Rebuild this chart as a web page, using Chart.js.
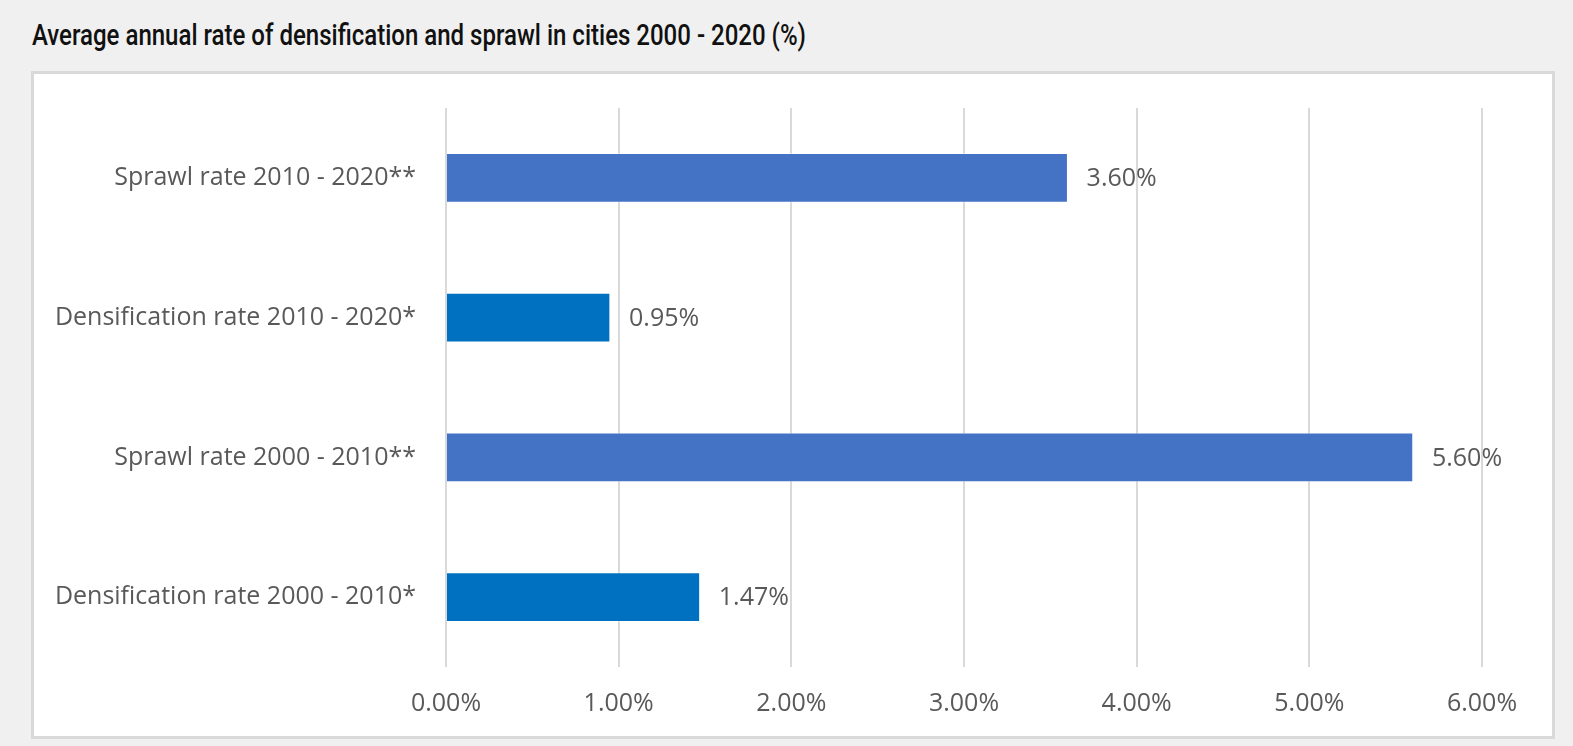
<!DOCTYPE html>
<html>
<head>
<meta charset="utf-8">
<script src="https://cdn.jsdelivr.net/npm/chart.js@4/dist/chart.umd.min.js"></script>
<style>
  html, body { margin: 0; padding: 0; background: #f0f0f0; }
  body { width: 1573px; height: 746px; position: relative; overflow: hidden; }
  #title {
    position: absolute; left: 32px; top: 17px;
    font-family: Roboto, "DejaVu Sans Condensed", sans-serif;
    font-size: 29px; font-weight: 500; line-height: 36px; color: #111;
    white-space: nowrap; transform-origin: 0 0;
  }
  #panel {
    position: absolute; left: 31px; top: 71px;
    width: 1518px; height: 662px;
    border: 3px solid #d9d9d9; background: #ffffff;
  }
  #chart { display: block; }
</style>
</head>
<body>
<div id="title">Average annual rate of densification and sprawl in cities 2000 - 2020 (%)</div>
<div id="panel"><canvas id="chart" width="1518" height="662"></canvas></div>
<script>
const categories = [
  'Sprawl rate 2010 - 2020**',
  'Densification rate 2010 - 2020*',
  'Sprawl rate 2000 - 2010**',
  'Densification rate 2000 - 2010*'
];
const values = [3.60, 0.95, 5.60, 1.47];
const barColors = ['#4472C4', '#0070C0', '#4472C4', '#0070C0'];
const xTicks = [0, 1, 2, 3, 4, 5, 6];

// fit title width
(function () {
  const t = document.getElementById('title');
  const w = t.getBoundingClientRect().width;
  const target = 774;
  t.style.transform = 'scaleX(' + (target / w) + ')';
})();

const FONT = '"Open Sans", "Noto Sans", sans-serif';
const TXT = '#595959';

const dataLabels = {
  id: 'dataLabels',
  afterDatasetsDraw(chart) {
    const ctx = chart.ctx;
    const meta = chart.getDatasetMeta(0);
    ctx.save();
    ctx.font = '25px ' + FONT;
    ctx.fillStyle = TXT;
    ctx.textAlign = 'left';
    ctx.textBaseline = 'middle';
    meta.data.forEach((bar, i) => {
      ctx.fillText(values[i].toFixed(2) + '%', bar.x + 19, bar.y + 1);
    });
    ctx.restore();
  }
};

new Chart(document.getElementById('chart'), {
  type: 'bar',
  data: {
    labels: categories,
    datasets: [{
      data: values,
      backgroundColor: barColors,
      borderColor: 'rgba(255,255,255,0.35)',
      borderWidth: 1,
      barThickness: 49
    }]
  },
  options: {
    indexAxis: 'y',
    responsive: false,
    animation: false,
    layout: { padding: { top: 34, right: 70, bottom: 0, left: 0 } },
    plugins: { legend: { display: false }, tooltip: { enabled: false } },
    scales: {
      x: {
        min: 0, max: 6,
        afterBuildTicks(axis) { axis.ticks = xTicks.map(v => ({ value: v })); },
        afterFit(axis) { axis.height = 69; },
        grid: { color: '#d9d9d9', lineWidth: 2, drawTicks: false },
        border: { display: false },
        ticks: {
          padding: 22,
          color: TXT,
          font: { family: FONT, size: 25 },
          callback: v => Number(v).toFixed(2) + '%'
        }
      },
      y: {
        afterFit(axis) {
          axis.width = 412;
          axis.paddingTop = 0;
          axis.paddingBottom = 0;
        },
        grid: { display: false, drawTicks: false },
        border: { display: false },
        ticks: {
          padding: 30,
          color: TXT,
          font: { family: FONT, size: 25 }
        }
      }
    }
  },
  plugins: [dataLabels]
});
</script>
</body>
</html>
